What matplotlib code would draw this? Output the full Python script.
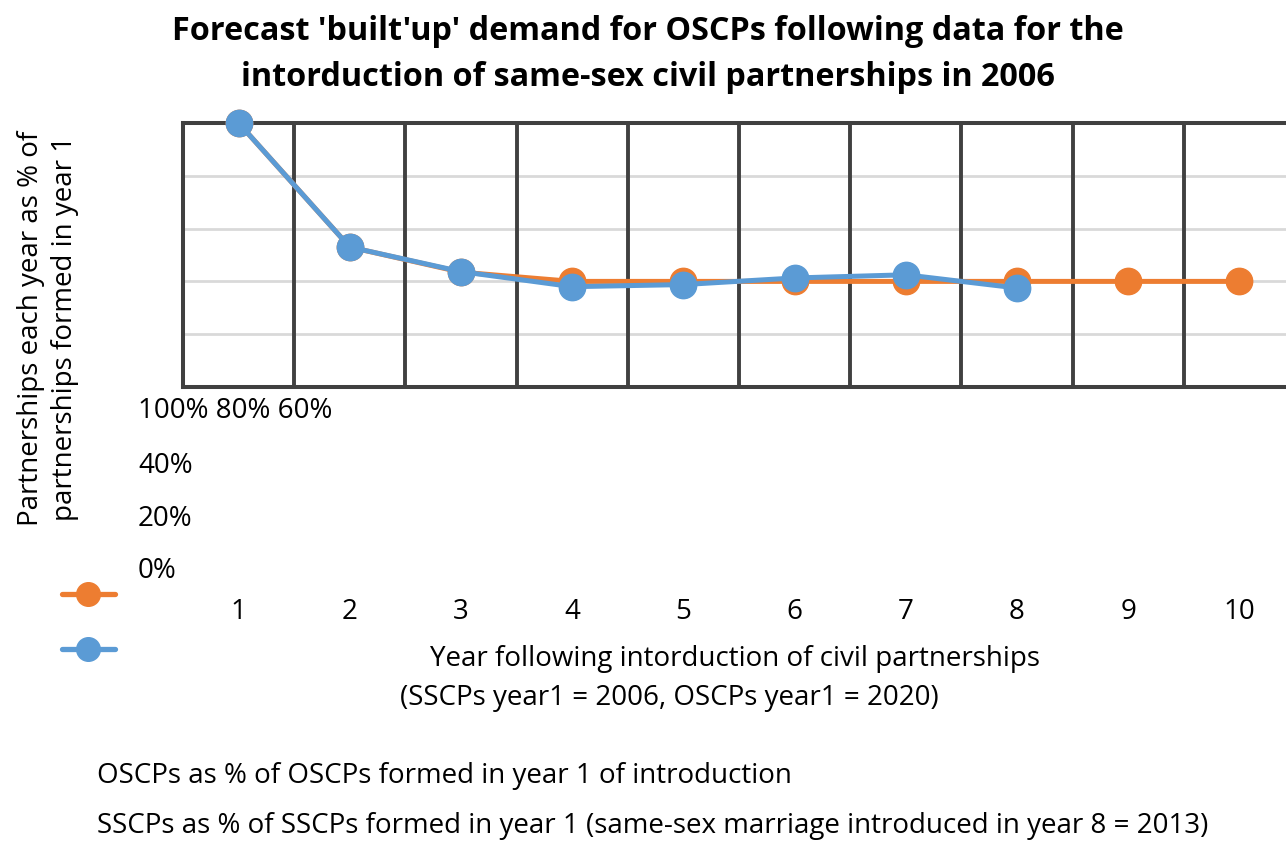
import matplotlib
matplotlib.use("Agg")
import matplotlib.pyplot as plt
from matplotlib.lines import Line2D

plt.rcParams['font.family'] = ['Open Sans', 'DejaVu Sans']

years = [1, 2, 3, 4, 5, 6, 7, 8, 9, 10]
x_labels = ['1', '2', '3', '4', '5', '6', '7', '8', '9', '10']
oscp = [1.00, 0.53, 0.435, 0.40, 0.40, 0.40, 0.40, 0.40, 0.40, 0.40]
sscp_years = [1, 2, 3, 4, 5, 6, 7, 8]
sscp = [1.00, 0.53, 0.437, 0.38, 0.388, 0.413, 0.425, 0.375]
y_tick_labels = ['100%', '80%', '60%', '40%', '20%', '0%']
series_names = ['OSCPs as % of OSCPs formed in year 1 of introduction',
                'SSCPs as % of SSCPs formed in year 1 (same-sex marriage introduced in year 8 = 2013)']

ORANGE = '#ED7D31'
BLUE = '#5B9BD5'
DARK = '#404040'

W, H = 1286, 845
fig = plt.figure(figsize=(W / 100, H / 100), dpi=100)

left, right, top, bottom = 183, 1295, 124, 388
ax = fig.add_axes([left / W, 1 - bottom / H, (right - left) / W, (bottom - top) / H])
ax.set_xlim(0.5, 10.5)
ax.set_ylim(0, 1)

for yv in [0.2, 0.4, 0.6, 0.8]:
    ax.axhline(yv, color='#d9d9d9', lw=2.0, zorder=0)
for xv in [1.5, 2.5, 3.5, 4.5, 5.5, 6.5, 7.5, 8.5, 9.5]:
    ax.axvline(xv, color=DARK, lw=2.8, zorder=1)
for s in ax.spines.values():
    s.set_color(DARK)
    s.set_linewidth(2.9)
ax.spines['right'].set_visible(False)

ax.plot(years, oscp, color=ORANGE, lw=3.6, marker='o', ms=19, zorder=3, clip_on=False)
ax.plot(sscp_years, sscp, color=BLUE, lw=3.6, marker='o', ms=19, zorder=4, clip_on=False)

fs = 20
ax.set_yticks([])
ax.set_xticks(years)
ax.set_xticklabels(x_labels, fontsize=fs)
ax.tick_params(axis='x', length=0, pad=151)

# misplaced y tick labels
fig.text(138 / W, 1 - 411 / H, ' '.join(y_tick_labels[:3]), fontsize=fs, ha='left', va='center')
for lab, yy in zip(y_tick_labels[3:], [466, 519, 571]):
    fig.text(138 / W, 1 - yy / H, lab, fontsize=fs, ha='left', va='center')

# axis titles
fig.text(735 / W, 1 - 659 / H, 'Year following intorduction of civil partnerships',
         fontsize=fs, ha='center', va='center')
fig.text(669 / W, 1 - 698 / H, '(SSCPs year1 = 2006, OSCPs year1 = 2020)', fontsize=fs, ha='center', va='center')
fig.text(48 / W, 1 - 328 / H, 'Partnerships each year as % of\npartnerships formed in year 1',
         fontsize=fs, ha='center', va='center', rotation=90, multialignment='center', linespacing=1.28)

# title
fig.text(648 / W, 1 - 32 / H, "Forecast 'built'up' demand for OSCPs following data for the",
         fontsize=23.3, fontweight='bold', ha='center', va='center')
fig.text(648 / W, 1 - 77 / H, "intorduction of same-sex civil partnerships in 2006",
         fontsize=23.3, fontweight='bold', ha='center', va='center')

# legend handles and texts (detached)
for col, yy in [(ORANGE, 595), (BLUE, 650)]:
    fig.add_artist(Line2D([62 / W, 115 / W], [1 - yy / H, 1 - yy / H], color=col, lw=3.8,
                          solid_capstyle='round', transform=fig.transFigure))
    fig.add_artist(Line2D([88 / W], [1 - yy / H], color=col, marker='o', ms=17, lw=0,
                          transform=fig.transFigure))
for name, yy in zip(series_names, [776, 826]):
    fig.text(97 / W, 1 - yy / H, name, fontsize=fs, ha='left', va='center')

fig.savefig('out.png', dpi=100)
